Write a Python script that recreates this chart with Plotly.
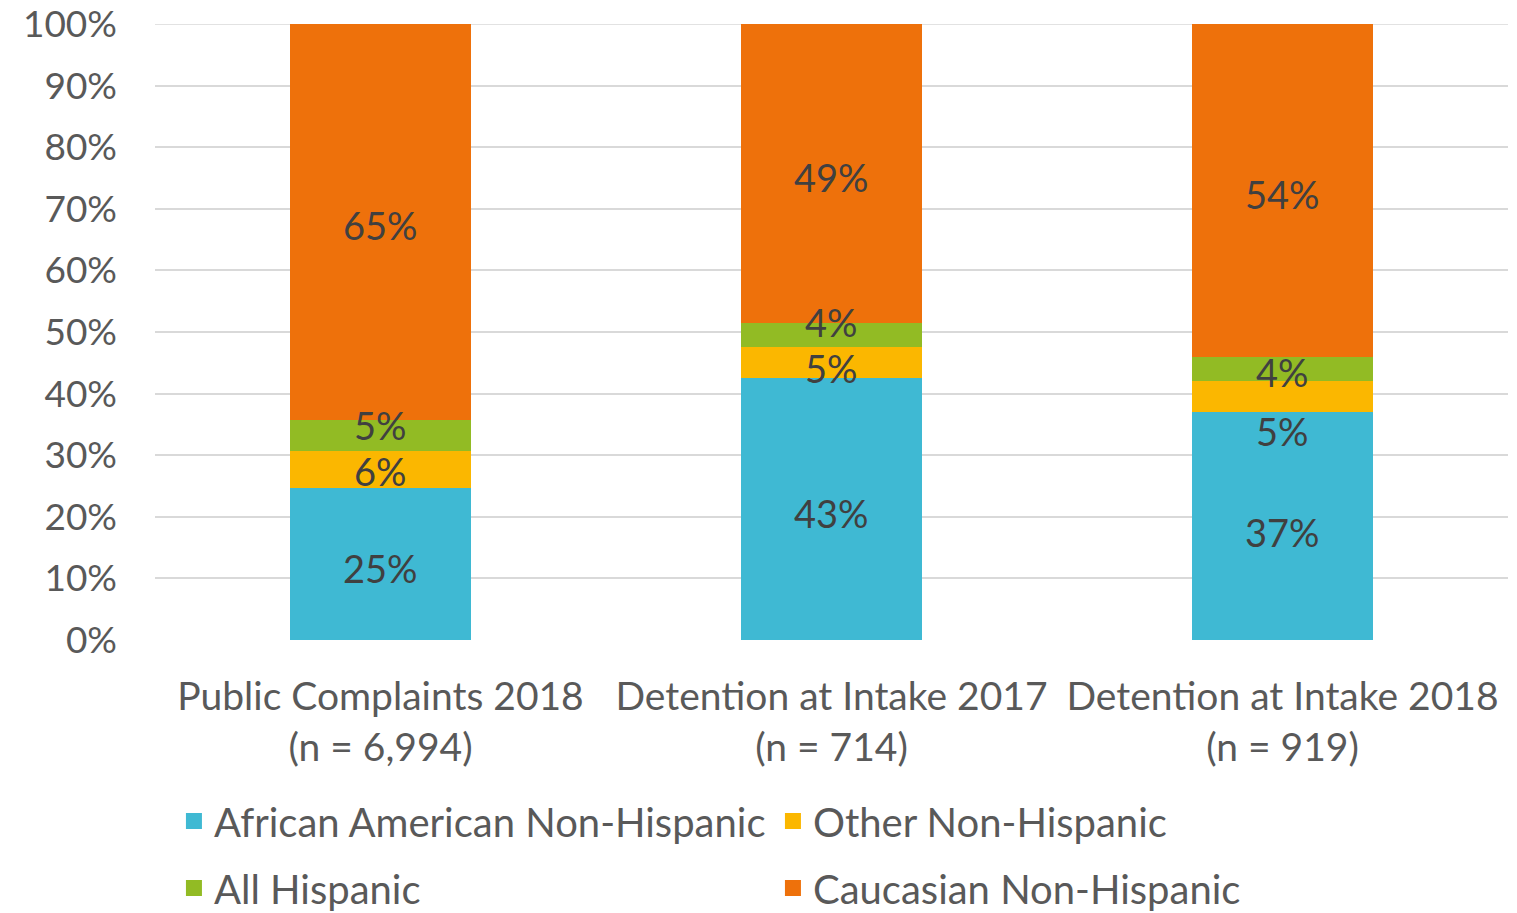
import plotly.graph_objects as go

categories = ["Public Complaints 2018<br>(n = 6,994)",
              "Detention at Intake 2017<br>(n = 714)",
              "Detention at Intake 2018<br>(n = 919)"]
series_names = ["African American Non-Hispanic", "Other Non-Hispanic",
                "All Hispanic", "Caucasian Non-Hispanic"]
african = [25, 43, 37]
other = [6, 5, 5]
hispanic = [5, 4, 4]
caucasian = [65, 49, 54]
colors = ["#3FB9D3", "#FBB700", "#92BB24", "#EE710B"]
legend_ids = ["legend", "legend", "legend2", "legend2"]
tick_vals = [0, 10, 20, 30, 40, 50, 60, 70, 80, 90, 100]
tick_text = [f"{v}%" for v in tick_vals]
# label pixel nudges (style only), per series per category
label_yshift = [[-4, -4, -6], [-2, -5, -34], [11, 13, -3], [-3, -4, -4]]

FONT = "Lato"
series = [african, other, hispanic, caucasian]
fig = go.Figure()
for name, vals, col in zip(series_names, series, colors):
    fig.add_trace(go.Bar(
        name=name, x=categories, y=vals,
        marker=dict(color=col, line=dict(width=0)),
        showlegend=False, hoverinfo="name+y",
    ))
# legend entries (square swatches)
for name, col, lg in zip(series_names, colors, legend_ids):
    fig.add_trace(go.Scatter(
        name=name, x=[None], y=[None], mode="markers",
        marker=dict(symbol="square", size=22, color=col),
        legend=lg, showlegend=True,
    ))

# data labels at the centre of each normalised segment
for ci, cat in enumerate(categories):
    total = sum(s[ci] for s in series)
    base = 0.0
    for si, s in enumerate(series):
        share = s[ci] / total * 100
        fig.add_annotation(x=cat, y=base + share / 2, xref="x", yref="y",
                           text=f"{s[ci]}%", showarrow=False,
                           yshift=label_yshift[si][ci],
                           font=dict(family=FONT, size=38, color="#404040"))
        base += share

# top gridline (100%), drawn below the bars
fig.add_shape(type="line", xref="paper", yref="y", x0=0, x1=1,
              y0=tick_vals[-1], y1=tick_vals[-1],
              line=dict(color="#D9D9D9", width=1.5), layer="below")

fig.update_layout(
    barmode="stack", barnorm="percent", bargap=0.6,
    width=1517, height=913,
    margin=dict(l=155, r=9, t=24, b=273, autoexpand=False),
    paper_bgcolor="white", plot_bgcolor="white",
    font=dict(family=FONT, color="#595959"),
    xaxis=dict(tickfont=dict(size=39, color="#595959"), showline=False,
               ticks="", ticklabelstandoff=30, automargin=False),
    yaxis=dict(range=[0, 100], tickvals=tick_vals, ticktext=tick_text,
               tickfont=dict(size=37, color="#595959"), showgrid=True,
               gridcolor="#D9D9D9", gridwidth=1.5, zeroline=False, ticks="",
               ticklabelstandoff=37, automargin=False,
               ticklabeloverflow="allow"),
    legend=dict(orientation="h", x=0.014, y=-0.241, xanchor="left", yanchor="top",
                entrywidth=554, entrywidthmode="pixels", traceorder="normal",
                font=dict(size=40, color="#595959"), itemwidth=30),
    legend2=dict(orientation="h", x=0.014, y=-0.350, xanchor="left", yanchor="top",
                 entrywidth=554, entrywidthmode="pixels", traceorder="normal",
                 font=dict(size=40, color="#595959"), itemwidth=30),
    showlegend=True,
)
fig.write_html("out.html", config={"displayModeBar": False},
               post_script="document.body.style.margin='0';document.body.style.overflow='hidden';")
